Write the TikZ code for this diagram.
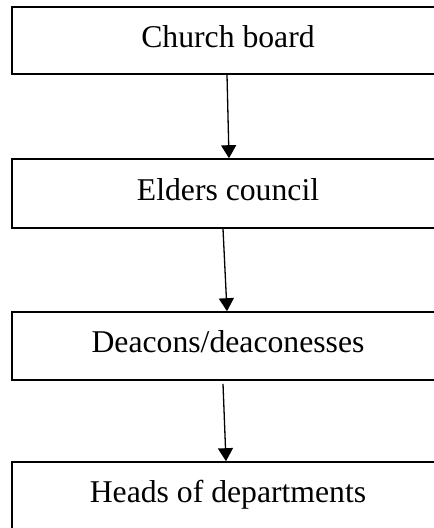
\documentclass[tikz,border=0pt]{standalone}
\usepackage{fontspec}
\setmainfont{Liberation Serif}
\usetikzlibrary{arrows.meta}
\begin{document}
\begin{tikzpicture}[x=1pt,y=1pt,
  box/.style={draw=black, line width=1.6pt, rectangle, minimum width=432pt, inner sep=0pt,
    font=\fontsize{31.7}{38}\selectfont, text height=21pt, text depth=8pt},
  conn/.style={line width=1.3pt, -{Triangle[length=13pt,width=15pt]}}]
\useasboundingbox (0,0) rectangle (434,-528);
\node[box, minimum height=67pt] (b1) at (228,-40.5) {Church board};
\node[box, minimum height=69pt] (b2) at (228,-193.5) {Elders council};
\node[box, minimum height=68pt] (b3) at (228,-346) {Deacons/deaconesses};
\node[box, minimum height=68pt] (b4) at (228,-496) {Heads of departments};
\draw[conn] ([xshift=-1pt]b1.south) -- ([xshift=1pt]b2.north);
\draw[conn] ([xshift=-5pt]b2.south) -- ([xshift=-1pt]b3.north);
\draw[conn] ([xshift=-5pt,yshift=-3pt]b3.south) -- ([xshift=-2pt]b4.north);
\end{tikzpicture}
\end{document}
